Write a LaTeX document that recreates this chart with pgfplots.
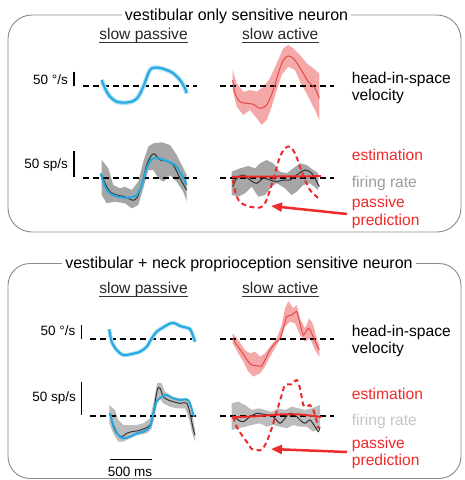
\documentclass[border=0pt]{standalone}
\usepackage{fontspec}
\setmainfont{Liberation Sans}
\usepackage{pgfplots}
\pgfplotsset{compat=1.18}
\usetikzlibrary{arrows.meta}
\definecolor{cblue}{HTML}{22A9E1}
\definecolor{cbluel}{HTML}{A8DCF2}
\definecolor{cred}{HTML}{EE2A2A}
\definecolor{credm}{HTML}{E64848}
\definecolor{cpink}{HTML}{F5A8A8}
\definecolor{cgray}{HTML}{A6A6A6}
\definecolor{cgrayl}{HTML}{BCBCBC}
\definecolor{cframe}{HTML}{8A8A8A}
\definecolor{ctxtgray}{HTML}{9C9C9C}
\definecolor{ctxtgrayl}{HTML}{C6C6C6}
\definecolor{cmean}{HTML}{333333}
\newcommand\lab{\fontsize{15.6}{18}\selectfont}
\newcommand\ttl{\fontsize{16}{18}\selectfont}
\newcommand\sca{\fontsize{13.5}{16}\selectfont}
\begin{document}
\begin{tikzpicture}
\begin{axis}[at={(0,0)},anchor=south west,scale only axis,width=464pt,height=480pt,
  xmin=0,xmax=464,ymin=0,ymax=480,y dir=reverse,hide axis,clip=false,no markers]
% ---------------- frames
\draw[cframe,line width=0.9pt,rounded corners=24pt] (axis cs:8,15) rectangle (axis cs:461,232);
\draw[cframe,line width=0.9pt,rounded corners=22pt] (axis cs:8,263.5) rectangle (axis cs:461,478.5);
\node[fill=white,inner xsep=3pt,inner ysep=2pt,anchor=base,font=\ttl] at (axis cs:236.5,20) {vestibular only sensitive neuron};
\node[fill=white,inner xsep=3pt,inner ysep=2pt,anchor=base,font=\ttl] at (axis cs:239,268.5) {vestibular + neck proprioception sensitive neuron};
% ---------------- headers
\node[anchor=base,font=\lab,text=black!85] at (axis cs:143.5,39) {slow passive};
\node[anchor=base,font=\lab,text=black!85] at (axis cs:280.3,39) {slow active};
\node[anchor=base,font=\lab,text=black!85] at (axis cs:143.5,293.5) {slow passive};
\node[anchor=base,font=\lab,text=black!85] at (axis cs:280.3,293) {slow active};
\draw[black!80,line width=0.9pt] (axis cs:99,42) -- (axis cs:188,42);
\draw[black!80,line width=0.9pt] (axis cs:241.7,42) -- (axis cs:319,42);
\draw[black!80,line width=0.9pt] (axis cs:99,296.5) -- (axis cs:188,296.5);
\draw[black!80,line width=0.9pt] (axis cs:241.7,296) -- (axis cs:319,296);
% ---------------- right labels
\node[anchor=base west,inner sep=0pt,font=\lab] at (axis cs:351.7,83) {head-in-space};
\node[anchor=base west,inner sep=0pt,font=\lab] at (axis cs:351.7,100) {velocity};
\node[anchor=base west,inner sep=0pt,font=\lab,text=cred] at (axis cs:351.7,160) {estimation};
\node[anchor=base west,inner sep=0pt,font=\lab,text=ctxtgray] at (axis cs:351.7,187) {firing rate};
\node[anchor=base west,inner sep=0pt,font=\lab,text=cred] at (axis cs:351.7,207.5) {passive};
\node[anchor=base west,inner sep=0pt,font=\lab,text=cred] at (axis cs:351.7,225) {prediction};
\node[anchor=base west,inner sep=0pt,font=\lab] at (axis cs:351.7,336) {head-in-space};
\node[anchor=base west,inner sep=0pt,font=\lab] at (axis cs:351.7,353.3) {velocity};
\node[anchor=base west,inner sep=0pt,font=\lab,text=cred] at (axis cs:351.7,399.3) {estimation};
\node[anchor=base west,inner sep=0pt,font=\lab,text=ctxtgrayl] at (axis cs:351.7,425) {firing rate};
\node[anchor=base west,inner sep=0pt,font=\lab,text=cred] at (axis cs:351.7,448.5) {passive};
\node[anchor=base west,inner sep=0pt,font=\lab,text=cred] at (axis cs:351.7,465.5) {prediction};
% ---------------- scale labels and bars
\node[anchor=base east,inner sep=0pt,font=\sca] at (axis cs:68,84) {50 °/s};
\node[anchor=base east,inner sep=0pt,font=\sca] at (axis cs:68,168) {50 sp/s};
\node[anchor=base east,inner sep=0pt,font=\sca] at (axis cs:75.5,335.5) {50 °/s};
\node[anchor=base east,inner sep=0pt,font=\sca] at (axis cs:76,401.5) {50 sp/s};
\node[anchor=base,inner sep=0pt,font=\sca] at (axis cs:130,476) {500 ms};
\addplot[black,line width=1.5pt] coordinates {(74,71.7) (74,86)};
\addplot[black,line width=1.5pt] coordinates {(74,150.5) (74,177)};
\addplot[black,line width=1.5pt] coordinates {(81.7,325) (81.7,339.3)};
\addplot[black,line width=1.5pt] coordinates {(81.7,381.7) (81.7,415)};
\addplot[black,line width=1.5pt] coordinates {(110,459.3) (151.7,459.3)};
% ================= TOP PANEL
% passive firing band
\addplot[fill=cgray,draw=none] coordinates {(101.7,160) (108.3,168.3) (113.3,185) (120,188.3) (125,186.7) (131.7,190) (138.3,181.7) (143.3,161.7) (148.3,146.7) (153.3,143.3) (161.7,142.3) (170,145) (176.7,155) (181.7,165) (186.7,175)
 (186.7,201.7) (183.3,191.7) (176.7,181.7) (170,175) (163.3,181.7) (158.3,178.3) (153.3,170) (148.3,170) (143.3,188.3) (138.3,205) (131.7,208.3) (125,203.3) (115,201.7) (106.7,203.3) (101.7,195)} -- cycle;
% active velocity band
\addplot[fill=cpink,draw=none] coordinates {(232.7,70) (236.7,83.3) (243.3,91.7) (250,90) (256.7,91.7) (263.3,86.7) (270,78.3) (276.7,63.3) (283.3,48.3) (288.3,45) (293.3,48.3) (300,55) (306.7,63.3) (313.3,68.3) (319.3,73.3)
 (319.3,120) (315,110) (308.3,96.7) (301.7,85) (295,70) (288.3,66.7) (281.7,75) (276.7,90) (271.7,106.7) (266.7,120) (261.7,125) (256.7,118.3) (250,110) (243.3,115) (236.7,106.7) (232.7,90)} -- cycle;
% active firing band
\addplot[fill=cgray,draw=none] coordinates {(231.7,171.7) (240,168.3) (248.3,166) (255,168.3) (260,163.3) (266.7,160) (273.3,163.3) (280,171.7) (286.7,173.3) (293.3,168.3) (300,163.3) (306.7,165) (313.3,170) (318.3,173.3)
 (318.3,190) (310,183.3) (303.3,185) (296.7,191.7) (291.7,195) (285,188.3) (276.7,183.3) (271.7,186.7) (265,195) (258.3,196.7) (251.7,186.7) (245,193.3) (238.3,196.7) (231.7,195)} -- cycle;
% dashed zero lines
\addplot[black,line width=2pt,dash pattern=on 5.5pt off 4.5pt] coordinates {(83,85.7) (197,85.7)};
\addplot[black,line width=2pt,dash pattern=on 5.5pt off 4.5pt] coordinates {(220,85.7) (334,85.7)};
\addplot[black,line width=2pt,dash pattern=on 5.5pt off 4.5pt] coordinates {(83,177.5) (197,177.5)};
\addplot[black,line width=2pt,dash pattern=on 5.5pt off 4.5pt] coordinates {(220,177.5) (334,177.5)};
% passive velocity
\addplot[cbluel,line width=4.5pt,smooth,tension=0.5] coordinates {(101.7,80) (105,88.3) (110,96.7) (116.7,101.7) (125,102.7) (133.3,101) (138.3,96.7) (143.3,86.7) (148.3,73.3) (151.7,68.3) (158.3,67.7) (166.7,70) (173.3,73.3) (180,80) (185,88.3) (186.7,93.3)};
\addplot[cblue,line width=2pt,smooth,tension=0.5] coordinates {(101.7,80) (105,88.3) (110,96.7) (116.7,101.7) (125,102.7) (133.3,101) (138.3,96.7) (143.3,86.7) (148.3,73.3) (151.7,68.3) (158.3,67.7) (166.7,70) (173.3,73.3) (180,80) (185,88.3) (186.7,93.3)};
% passive firing mean + blue
\addplot[cmean,line width=1pt,smooth,tension=0.5] coordinates {(101.7,175) (105,183.3) (110,191.7) (116.7,195) (125,196.7) (131.7,200) (136.7,198.3) (141.7,185) (146.7,165) (151.7,155) (155,154.3) (160,160) (166.7,161) (173.3,165) (180,178.3) (186.7,190)};
\addplot[cblue,line width=2pt,smooth,tension=0.5] coordinates {(100.7,173.3) (105,186.7) (110,193.3) (118.3,196.7) (128.3,197.7) (136.7,195) (141.7,185) (146.7,168.3) (151.7,159) (158.3,158.3) (166.7,161) (175,165) (181.7,175) (186.7,185)};
% active velocity mean
\addplot[credm,line width=1pt,smooth,tension=0.5] coordinates {(232.7,80) (235,93.3) (240,101.7) (246.7,103.3) (253.3,104.3) (260,108.3) (266.7,105) (273.3,90) (278.3,73.3) (283.3,60) (288.3,56) (293.3,58.3) (298.3,65) (303.3,73.3) (308.3,81.7) (315,88.3) (319.3,98.3)};
% active firing
\addplot[cmean,line width=1pt,smooth,tension=0.5] coordinates {(232.7,186.7) (236.7,178.3) (243.3,175) (250,180) (256.7,183.3) (263.3,178.3) (270,180) (276.7,181.7) (283.3,180) (290,180) (296.7,175) (305,170) (311.7,173.3) (316.7,181.7) (319.3,186.7)};
\addplot[cred,line width=2pt] coordinates {(231.7,176.8) (321,176.2)};
\addplot[cred,line width=2pt,dash pattern=on 5pt off 3.5pt,smooth,tension=0.5] coordinates {(232.7,180) (236.7,196.7) (241.7,203.3) (250,206.7) (260,207.5) (265,203.3) (270,190) (275,173.3) (280,156.7) (285,148.3) (290,146.7) (295,153.3) (300,166.7) (305,180) (310,190) (316.7,196.7) (318.3,198)};
\addplot[cred,line width=2.5pt,-{Triangle[length=11pt,width=9pt]}] coordinates {(347,214) (271,206)};
% ================= BOTTOM PANEL
\addplot[fill=cgrayl,draw=none] coordinates {(109.3,405) (115,410) (118.3,420) (123.3,425) (130,425) (136.7,425) (143.3,423.3) (150,418.3) (153.3,403.3) (157.3,382.7) (161.7,383.3) (165,391.7) (171.7,396.7) (180,398.3) (186.7,398.3) (190.7,403.3) (193.3,420) (195,430)
 (195,441.7) (192.7,435) (189.3,420) (185,408.3) (176.7,408.3) (170,406.7) (163.3,403.3) (158.3,396.7) (155,415) (151.7,428.3) (146.7,433.3) (138.3,435) (130,438.3) (123.3,441.7) (118.3,441.7) (113.3,433.3) (109.3,423.3)} -- cycle;
\addplot[fill=cpink,draw=none] coordinates {(232.7,333.3) (238.3,340) (245,350) (250,353.3) (255,351.7) (260,356.7) (265,353.3) (270,346.7) (276.7,338.3) (281.7,325) (285,308.3) (288.3,301) (293.3,308.3) (296.7,305) (300,318.3) (305,328.3) (309.3,318.3) (313.3,325) (316.7,338.3) (319.3,345)
 (319.3,356.7) (315,350) (310,338.3) (305,341.7) (300,335) (295,323.3) (290,321.7) (285,326.7) (281.7,336.7) (276.7,345) (270,356.7) (265,366.7) (260,373.3) (253.3,376.7) (248.3,371.7) (243.3,361.7) (238.3,353.3) (232.7,343.3)} -- cycle;
\addplot[fill=cgrayl,draw=none] coordinates {(231.7,403.3) (238.3,401.7) (245,405) (251.7,410) (258.3,408.3) (265,410) (271.7,411.7) (278.3,408.3) (285,410) (291.7,406.7) (298.3,408.3) (305,410) (311.7,408.3) (320,405)
 (320,428.3) (313.3,431.7) (306.7,426.7) (300,426.7) (293.3,425) (286.7,428.3) (280,426.7) (273.3,425) (266.7,426.7) (260,423.3) (251.7,425) (245,426.7) (238.3,428.3) (231.7,430)} -- cycle;
\addplot[black,line width=2pt,dash pattern=on 5.5pt off 4.5pt] coordinates {(90,339.3) (197,339.3)};
\addplot[black,line width=2pt,dash pattern=on 5.5pt off 4.5pt] coordinates {(220,339.3) (334,339.3)};
\addplot[black,line width=2pt,dash pattern=on 5.5pt off 4.5pt] coordinates {(90,415.7) (197,415.7)};
\addplot[black,line width=2pt,dash pattern=on 5.5pt off 4.5pt] coordinates {(220,415.7) (334,415.7)};
\addplot[cbluel,line width=4pt,smooth,tension=0.5] coordinates {(109.3,329.3) (111.7,341.7) (116.7,350) (123.3,355) (131.7,354) (140,351.7) (146.7,346.7) (151.7,338.3) (156.7,331.7) (163.3,327.3) (170,323.5) (175,323.3) (180,326) (185,327.3) (190,329) (192.7,335) (195,341.7)};
\addplot[cblue,line width=2pt,smooth,tension=0.5] coordinates {(109.3,329.3) (111.7,341.7) (116.7,350) (123.3,355) (131.7,354) (140,351.7) (146.7,346.7) (151.7,338.3) (156.7,331.7) (163.3,327.3) (170,323.5) (175,323.3) (180,326) (185,327.3) (190,329) (192.7,335) (195,341.7)};
\addplot[cmean,line width=1pt,smooth,tension=0.5] coordinates {(110,413.3) (113.3,426.7) (116.7,433.3) (121.7,436.7) (126.7,433.3) (131.7,431.7) (138.3,430.7) (145,428.3) (150,425) (153.3,413.3) (157.3,390) (160,388.3) (163.3,396.7) (168.3,400) (173.3,401.7) (180,403.3) (186.7,403.3) (190,413.3) (192.7,426.7) (195,435)};
\addplot[cblue,line width=2pt,smooth,tension=0.5] coordinates {(110,413.3) (113.3,425) (118.3,435) (123.3,438.3) (130,436.7) (136.7,433.3) (143.3,431.7) (150,426.7) (153.3,413.3) (156.7,401.7) (161.7,396.7) (166.7,395) (173.3,398.3) (180,400) (186.7,399.3) (190,403.3) (194,416.7)};
\addplot[credm,line width=1pt,smooth,tension=0.4] coordinates {(232.7,338.3) (236.7,345) (241.7,351.7) (245,356.7) (248.3,361.7) (251.7,365) (256.7,365.7) (261.7,366) (265,360) (270,350) (275,343.3) (280,338.3) (283.3,328.3) (286.7,316.7) (291.7,315) (296.7,311.7) (300,323.3) (303.3,335) (308.3,328.3) (311.7,333.3) (316,343.3) (319.3,350)};
\addplot[cmean,line width=1pt,smooth,tension=0.5] coordinates {(232.7,415) (238.3,420) (243.3,421.7) (250,416.7) (256.7,413.3) (263.3,414.3) (270,415) (275,418.3) (280,423.3) (285,418.3) (290,413.3) (295,415) (300,420) (305,423.3) (310,420) (315,426.7) (318.3,431.7) (320,426.7)};
\addplot[cred,line width=2pt,smooth] coordinates {(231.7,417.3) (255,416.3) (280,414.5) (300,414.5) (321,417)};
\addplot[cred,line width=2pt,dash pattern=on 5pt off 3.5pt,smooth,tension=0.4] coordinates {(233.3,416.7) (236.7,426.7) (241.7,435) (246.7,441.7) (251.7,449) (256.7,450) (261.7,450) (266.7,441.7) (271.7,428.3) (276.7,411.7) (281.7,395) (285,385) (291.7,384.3) (296.7,380) (300,388.3) (303.3,405) (306.7,406.7) (310,405) (313.3,410) (316,418.3) (318.3,428.3)};
\addplot[cred,line width=2.5pt,-{Triangle[length=11pt,width=9pt]}] coordinates {(347,452) (271,449)};
\end{axis}
\pgfresetboundingbox
\path (0,0) rectangle (464pt,480pt);
\end{tikzpicture}
\end{document}
